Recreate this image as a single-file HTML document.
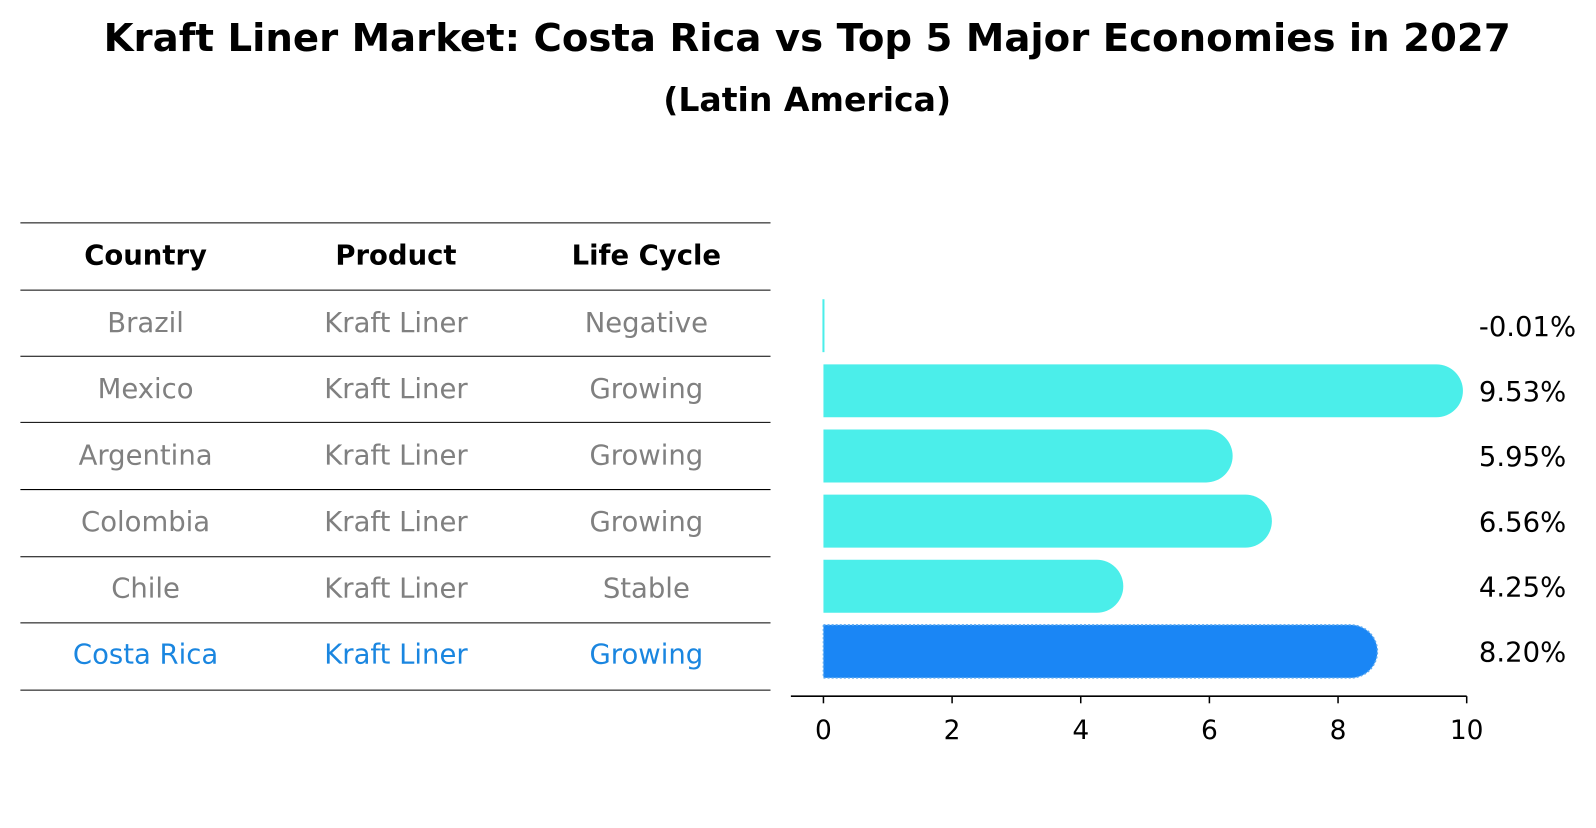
<!DOCTYPE html>
<html><head><meta charset="utf-8"><style>
body{margin:0;background:#fff;font-family:"Liberation Sans","DejaVu Sans",sans-serif}
</style></head><body>
<svg width="1596" height="823" viewBox="0 0 1568 808.6" xmlns="http://www.w3.org/2000/svg" font-family="DejaVu Sans, Liberation Sans, sans-serif">
<text x="793" y="50" text-anchor="middle" font-size="38" font-weight="bold">Kraft Liner Market: Costa Rica vs Top 5 Major Economies in 2027</text>
<text x="793" y="109" text-anchor="middle" font-size="32.5" font-weight="bold">(Latin America)</text>
<g id="table"></g>
<g id="bars"></g>
</svg>
<script>
const countries=["Brazil","Mexico","Argentina","Colombia","Chile","Costa Rica"];
const products=["Kraft Liner","Kraft Liner","Kraft Liner","Kraft Liner","Kraft Liner","Kraft Liner"];
const cycles=["Negative","Growing","Growing","Growing","Stable","Growing"];
const values=[-0.01,9.53,5.95,6.56,4.25,8.20];
const ticks=[0,2,4,6,8,10];
const NS="http://www.w3.org/2000/svg";
function mk(t,a,p){const e=document.createElementNS(NS,t);for(const k in a)e.setAttribute(k,a[k]);p.appendChild(e);return e;}
const tbl=document.getElementById('table');
const lineYs=[219,285,350,415,481,547,612,678];
lineYs.forEach(y=>{const l=mk('line',{x1:20,x2:757,y1:y,y2:y,stroke:'#000','stroke-width':1},tbl);

});
const colX=[143,389,635];
["Country","Product","Life Cycle"].forEach((h,i)=>{const t=mk('text',{x:colX[i],y:260,'text-anchor':'middle','font-size':27,'font-weight':'bold'},tbl);t.textContent=h;

});
function textY(i){return 316+i*65.2;}
countries.forEach((c,i)=>{const col=i===5?'#1a86e0':'#808080';
[c,products[i],cycles[i]].forEach((v,j)=>{const t=mk('text',{x:colX[j],y:textY(i)+10,'text-anchor':'middle','font-size':27,fill:col},tbl);t.textContent=v;

});});
const g=document.getElementById('bars');
const x0=809,sc=63.2;
function X(v){return x0+v*sc;}
function rowY(i){return 320+i*64;}
const bh=52,r=26;
values.forEach((v,i)=>{const cy=rowY(i),y=cy-bh/2;
const col=i===5?'#1a86f5':'#4beeea';
let el;
if(Math.abs(v)<0.1){el=mk('rect',{x:X(0)-1,y:y,width:2,height:bh,fill:col},g);}
else{const xe=X(v);
el=mk('path',{d:`M${X(0)},${y} H${xe} A${r},${r} 0 0 1 ${xe},${y+bh} H${X(0)} Z`,fill:col},g);
if(i===5){el.setAttribute('stroke','#5aa8f0');el.setAttribute('stroke-dasharray','2,2');el.setAttribute('stroke-width','1.5');}}


const t=mk('text',{x:1453,y:cy+10,'font-size':27},g);t.textContent=v.toFixed(2)+'%';

});
const ax=mk('line',{x1:777,x2:X(10),y1:684,y2:684,stroke:'#000','stroke-width':1.5},g);


ticks.forEach(tv=>{const l=mk('line',{x1:X(tv),x2:X(tv),y1:684,y2:691,stroke:'#000','stroke-width':1.5},g);


const t=mk('text',{x:X(tv),y:726,'text-anchor':'middle','font-size':26},g);t.textContent=tv;

});
</script>
</body></html>
